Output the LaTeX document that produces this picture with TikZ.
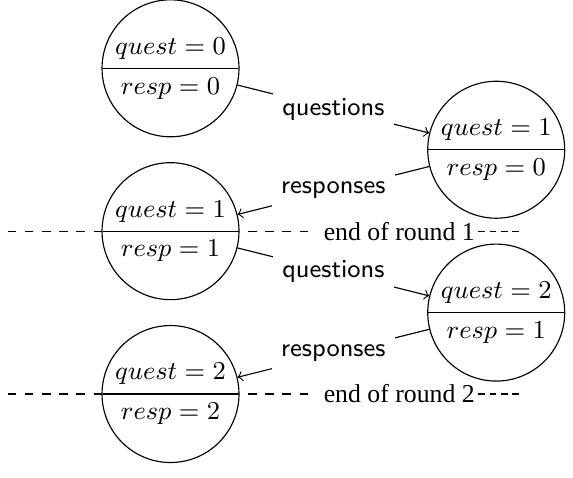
\documentclass[tikz,border=0pt]{standalone}
\usepackage{amsmath}
\usepackage{fontspec}
\newfontfamily\roundfont{Liberation Serif}
\usetikzlibrary{shapes.multipart}
\usetikzlibrary{positioning}
\tikzstyle{counter}=[circle split, draw, inner xsep=0pt, inner ysep=3pt, minimum size=1.682cm, font=\small]
\tikzstyle{msg}=[fill=white, font=\small\sffamily]
\tikzstyle{roundend}=[font=\small\roundfont, inner xsep=1pt]
\tikzstyle{tail}=[dash pattern=on 2.4pt off 1.6pt]

\begin{document}
\begin{tikzpicture}
\useasboundingbox (-2.094,0.839) rectangle (4.943,-5.031);
% left column: one side, right column: the other side
\node[counter] (s0) at (0,0) {$quest=0$ \nodepart{lower} $resp=0$};
\node[counter] (t1) at (4,-1) {$quest=1$ \nodepart{lower} $resp=0$};
\node[counter] (s1) at (0,-2) {$quest=1$ \nodepart{lower} $resp=1$};
\node[counter] (t2) at (4,-3) {$quest=2$ \nodepart{lower} $resp=1$};
\node[counter] (s2) at (0,-4) {$quest=2$ \nodepart{lower} $resp=2$};
% messages going back and forth
\draw[->] (s0) -- node[msg] {questions} (t1);
\draw[->] (t1) -- node[msg] {responses} (s1);
\draw[->] (s1) -- node[msg] {questions} (t2);
\draw[->] (t2) -- node[msg] {responses} (s2);
% end of each round, along the split line (runs straight through the circle)
\foreach \r/\s in {1/s1,2/s2} {
  \coordinate[left=2cm of \s.center] (l\r);
  \node[roundend, right=1.84cm of \s.center] (e\r) {end of round \r};
  \draw[dashed, shorten >=2pt] (l\r) -- (e\r);
  \draw[tail] (e\r.east) -- ++(0.5,0);
}
\end{tikzpicture}
\end{document}
